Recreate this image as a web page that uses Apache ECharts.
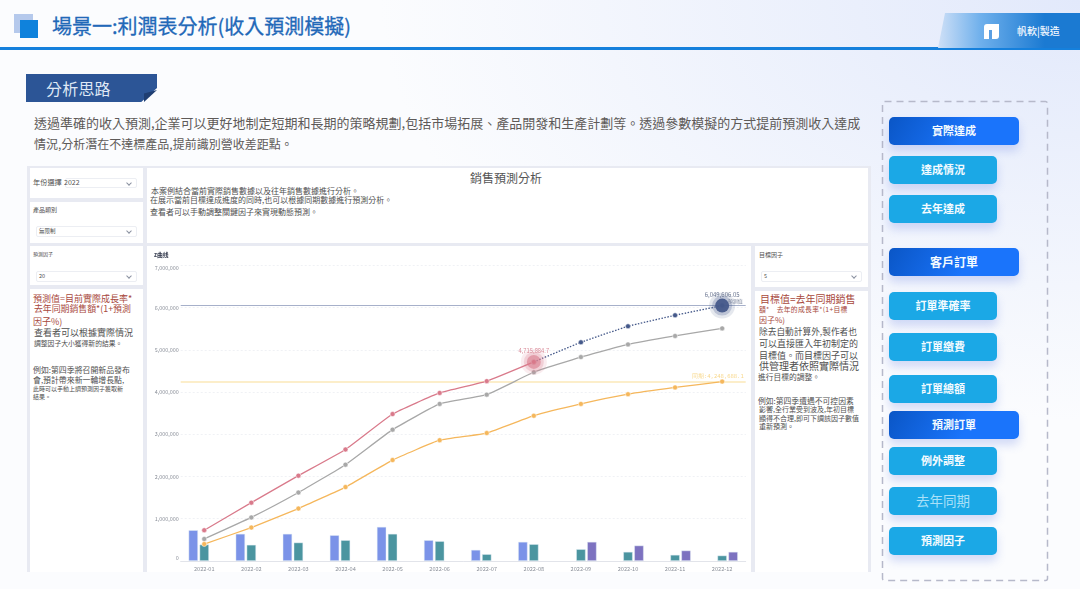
<!DOCTYPE html>
<html>
<head>
<meta charset="utf-8">
<script src="https://cdn.jsdelivr.net/npm/echarts@6/dist/echarts.min.js"></script>
<style>
html, body { margin: 0; padding: 0; }
body { width: 1080px; height: 589px; overflow: hidden; position: relative; font-family: "Noto Sans CJK TC", "Noto Sans", sans-serif;
  background: radial-gradient(ellipse 700px 420px at 100% 0, #e2e9fb, rgba(226,233,251,0)), #fbfcfe; }
.box { position: absolute; }
.t { position: absolute; white-space: nowrap; line-height: 1; }
.p { position: absolute; background: #fff; }
.sel { position: absolute; background: #fff; border: 1px solid #eceef3; border-radius: 2px; box-sizing: border-box; }
.sel:after { content: ""; position: absolute; right: 5px; top: 2px; width: 3px; height: 3px; border-right: 1px solid #8a90a0; border-bottom: 1px solid #8a90a0; transform: rotate(45deg); }
.red { color: #a8483c; }
.gr { color: #4f4f4f; }
.btn { position: absolute; left: 889px; width: 108px; height: 28px; border-radius: 5px; background: #1ba8e6; color: #f4fbff; font-weight: 700; font-size: 11px; line-height: 27px; text-align: center; box-shadow: 0 6px 10px rgba(70,100,220,.22); }
.btn.main { width: 130px; background: linear-gradient(120deg, #0a56c6, #1a74fb 60%); }
</style>
</head>
<body>
<!-- header -->
<div class="box" style="left:14px;top:14px;width:19px;height:19px;background:#b5c9ec"></div>
<div class="box" style="left:20px;top:20px;width:18px;height:18px;background:#0f82dc"></div>
<div class="t" style="left:52px;top:16px;font-size:20px;color:#2268b8;font-weight:400;-webkit-text-stroke:.3px #2268b8">場景一:利潤表分析(收入預測模擬)</div>
<div class="box" style="left:0;top:47px;width:1080px;height:2.5px;background:#1580dc"></div>
<div class="box" style="left:938px;top:13px;width:142px;height:35px;clip-path:polygon(7px 0,100% 0,100% 100%,0 100%);background:linear-gradient(90deg,#cfe0f7,#6fb0ec 30%,#1b7ad2 75%)"></div>
<div class="box" style="left:984px;top:24px;width:15px;height:15px;background:#fff;border-radius:3px 0 3px 0"></div>
<div class="box" style="left:989px;top:30px;width:3px;height:9px;background:#5a9fe3"></div>
<div class="t" style="left:1017px;top:26px;font-size:10px;color:#f2f8ff;font-weight:500">帆軟|製造</div>

<!-- section tag -->
<div class="box" style="left:26px;top:74px;width:131px;height:28px;background:#2c5596;clip-path:polygon(0 0,100% 0,100% 50%,88% 100%,0 100%)"></div>
<div class="box" style="left:144px;top:90px;width:13px;height:12px;background:#1f3e72;clip-path:polygon(100% 0,0 100%,0 30%)"></div>
<div class="t" style="left:46px;top:80px;font-size:16px;color:#dfe8f5;letter-spacing:.2px">分析思路</div>
<div class="t" style="left:34px;top:116px;font-size:13px;color:#5e5a58">透過準確的收入預測,企業可以更好地制定短期和長期的策略規劃,包括市場拓展、產品開發和生產計劃等。透過參數模擬的方式提前預測收入達成</div>
<div class="t" style="left:34px;top:138px;font-size:12px;color:#5e5a58">情況,分析潛在不達標產品,提前識別營收差距點。</div>

<!-- dashboard frame -->
<div class="box" style="left:27px;top:166px;width:844px;height:406px;background:#e8eaf2"></div>
<div class="p" style="left:30px;top:168px;width:113px;height:30px"></div>
<div class="p" style="left:30px;top:202px;width:113px;height:41px"></div>
<div class="p" style="left:30px;top:246px;width:113px;height:39px"></div>
<div class="p" style="left:30px;top:289px;width:113px;height:283px"></div>
<div class="p" style="left:147px;top:168px;width:721px;height:75px"></div>
<div class="p" style="left:147px;top:246px;width:604px;height:326px"></div>
<div class="p" style="left:755px;top:246px;width:113px;height:41px"></div>
<div class="p" style="left:755px;top:291px;width:113px;height:281px"></div>

<!-- filters -->
<div class="t gr" style="left:33px;top:178.5px;font-size:7.2px">年份選擇</div>
<div class="sel" style="left:65px;top:178px;width:72px;height:10px"></div>
<div class="t gr" style="left:64px;top:178.5px;font-size:7px">2022</div>
<div class="t gr" style="left:33px;top:207px;font-size:6px">產品類別</div>
<div class="sel" style="left:36px;top:226px;width:101px;height:11px"></div>
<div class="t gr" style="left:39px;top:229px;font-size:5.5px">無限制</div>
<div class="t gr" style="left:33px;top:251px;font-size:5px">預測因子</div>
<div class="sel" style="left:36px;top:271px;width:101px;height:11px"></div>
<div class="t gr" style="left:39px;top:274px;font-size:5.5px">20</div>
<div class="t gr" style="left:759px;top:252px;font-size:6px">目標因子</div>
<div class="sel" style="left:761px;top:271px;width:101px;height:11px"></div>
<div class="t gr" style="left:764px;top:274px;font-size:5.5px">5</div>

<!-- intro -->
<div class="t" style="left:470px;top:172px;font-size:12px;color:#555">銷售預測分析</div>
<div class="t gr" style="left:151px;top:187px;font-size:8px">本案例結合當前實際銷售數據以及往年銷售數據進行分析。</div>
<div class="t gr" style="left:150px;top:196px;font-size:8px">在展示當前目標達成進度的同時,也可以根據同期數據進行預測分析。</div>
<div class="t gr" style="left:150px;top:207.5px;font-size:8px">查看者可以手動調整關鍵因子來實現動態預測。</div>

<!-- left notes -->
<div class="t red" style="left:33px;top:294px;font-size:9px">預測值=目前實際成長率*</div>
<div class="t red" style="left:34px;top:305px;font-size:8.9px">去年同期銷售額*(1+預測</div>
<div class="t red" style="left:33px;top:317px;font-size:9px">因子%)</div>
<div class="t gr" style="left:34px;top:327.5px;font-size:9px">查看者可以根據實際情況</div>
<div class="t gr" style="left:34px;top:340px;font-size:6.8px">調整因子大小獲得新的結果。</div>
<div class="t gr" style="left:33px;top:366px;font-size:7.9px">例如:第四季將召開新品發布</div>
<div class="t gr" style="left:33px;top:376px;font-size:7.9px">會,預計帶來新一輪增長點,</div>
<div class="t gr" style="left:33px;top:386px;font-size:6px">此時可以手動上調預測因子獲取新</div>
<div class="t gr" style="left:33px;top:394px;font-size:6px">結果。</div>

<!-- right notes -->
<div class="t red" style="left:760px;top:294px;font-size:10px">目標值=去年同期銷售</div>
<div class="t red" style="left:759px;top:305.5px;font-size:6.8px;letter-spacing:.3px">額*　去年的成長率*(1+目標</div>
<div class="t red" style="left:759px;top:316px;font-size:8px">因子%)</div>
<div class="t gr" style="left:759px;top:328px;font-size:8.7px">除去自動計算外,製作者也</div>
<div class="t gr" style="left:759px;top:338.5px;font-size:9px">可以直接匯入年初制定的</div>
<div class="t gr" style="left:759px;top:350.5px;font-size:9px">目標值。而目標因子可以</div>
<div class="t gr" style="left:759px;top:361px;font-size:10px">供管理者依照實際情況</div>
<div class="t gr" style="left:758px;top:373px;font-size:7.75px">進行目標的調整。</div>
<div class="t gr" style="left:758px;top:396.5px;font-size:7.8px">例如:第四季遭遇不可控因素</div>
<div class="t gr" style="left:759px;top:405.5px;font-size:7px">影響,全行業受到波及,年初目標</div>
<div class="t gr" style="left:759px;top:414.5px;font-size:7px">顯得不合理,即可下調該因子數值</div>
<div class="t gr" style="left:759px;top:422.5px;font-size:7px">重新預測。</div>

<!-- chart -->
<div id="chart" class="box" style="left:147px;top:246px;width:604px;height:326px"></div>

<!-- button column -->
<svg class="box" style="left:881px;top:100px" width="168" height="482">
  <rect x="1.5" y="1.5" width="165" height="479" rx="2" fill="none" stroke="#b6b9ca" stroke-width="1.5" stroke-dasharray="7 5"/>
</svg>
<div class="btn main" style="top:117px">實際達成</div>
<div class="btn" style="top:156px">達成情況</div>
<div class="btn" style="top:195px">去年達成</div>
<div class="btn main" style="top:248px;font-size:12px">客戶訂單</div>
<div class="btn" style="top:292px">訂單準確率</div>
<div class="btn" style="top:332.5px">訂單繳費</div>
<div class="btn" style="top:375px">訂單總額</div>
<div class="btn main" style="top:411px">預測訂單</div>
<div class="btn" style="top:447px">例外調整</div>
<div class="btn" style="top:487px;font-size:13.5px;font-weight:400;color:#a9e0f8">去年同期</div>
<div class="btn" style="top:527px">預測因子</div>

<script>
var months = ["2022-01", "2022-02", "2022-03", "2022-04", "2022-05", "2022-06", "2022-07", "2022-08", "2022-09", "2022-10", "2022-11", "2022-12"];
var actualTotal = [727000, 1380000, 2020000, 2640000, 3480000, 3980000, 4260000, 4715884.7, null, null, null, null];
var forecastTotal = [null, null, null, null, null, null, null, 4715884.7, 5180000, 5560000, 5820000, 6049606.05];
var targetTotal = [520000, 1030000, 1620000, 2280000, 3110000, 3720000, 3940000, 4470000, 4830000, 5130000, 5330000, 5510000];
var lastYearTotal = [400000, 790000, 1240000, 1750000, 2390000, 2860000, 3030000, 3440000, 3720000, 3950000, 4110000, 4248688.1];
var actualMonthly = [726000, 640000, 640000, 607000, 805000, 490000, 260000, 450000, null, null, null, null];
var lastYearMonthly = [387000, 380000, 434000, 490000, 640000, 466000, 158000, 395000, 276000, 213000, 142000, 126000];
var forecastMonthly = [null, null, null, null, null, null, null, null, 450000, 363000, 245000, 213000];

var RED = "#d97a8b", NAVY = "#45598a", GRAY = "#a8a8a8", ORANGE = "#f5b75c";

function fmt(v) {
  return echarts.format.addCommas(v);
}

function lineSeries(name, data, color, extra) {
  return Object.assign({
    name: name,
    type: "line",
    data: data,
    z: 5,
    smooth: 0.12,
    symbol: "circle",
    symbolSize: 5,
    showSymbol: true,
    lineStyle: { color: color, width: 1.3 },
    itemStyle: { color: color, borderColor: "#fff", borderWidth: 0.5 },
  }, extra || {});
}

function barSeries(name, data, color) {
  return {
    name: name,
    type: "bar",
    data: data,
    barWidth: 9.3,
    barGap: "18%",
    itemStyle: { color: color, borderColor: "rgba(225,235,245,0.9)", borderWidth: 0.5 },
  };
}

// halo rings on the two highlighted points, alpha goes in the colour so labels stay solid
function ring(name, month, value, color, size, alpha, label) {
  return {
    name: name,
    type: "scatter",
    data: [[month, value]],
    z: 6,
    symbolSize: size,
    itemStyle: { color: echarts.color.modifyAlpha(color, alpha), opacity: 1 },
    label: label || { show: false },
  };
}

var chart = echarts.init(document.getElementById("chart"), null, { renderer: "canvas" });
var option = {
  animation: false,
  textStyle: { fontFamily: "Noto Sans CJK TC" },
  title: {
    text: "z曲线",
    left: 7,
    top: 6,
    padding: 0,
    textStyle: { fontSize: 5.8, fontWeight: "bold", color: "#333a4d" },
  },
  grid: { left: 33.7, right: 5.3, top: 19.5, bottom: 11 },
  xAxis: {
    type: "category",
    data: months,
    axisTick: { show: false },
    axisLine: { lineStyle: { color: "#e2e4ea", width: 1 } },
    axisLabel: { color: "#8a8f99", fontSize: 5.6, margin: 5.5 },
  },
  yAxis: {
    type: "value",
    min: 0,
    max: 7000000,
    interval: 1000000,
    axisLine: { show: false },
    axisTick: { show: false },
    axisLabel: {
      color: "#8a8f99",
      fontSize: 5.4,
      margin: 2,
      verticalAlignMinLabel: "bottom",
      verticalAlignMaxLabel: "top",
      formatter: fmt,
    },
    splitLine: { lineStyle: { color: "#eceef3", type: [2, 2], width: 0.8 } },
  },
  series: [
    barSeries("本期", actualMonthly, "#7b93e8"),
    barSeries("同期", lastYearMonthly, "#4b95a0"),
    barSeries("預測", forecastMonthly, "#7d72c0"),
    lineSeries("目標", targetTotal, GRAY),
    lineSeries("去年", lastYearTotal, ORANGE, {
      markLine: {
        silent: true,
        symbol: "none",
        lineStyle: { color: "#fbe8b8", width: 1.5, type: "solid" },
        label: {
          position: "insideEndTop",
          distance: 2,
          color: "#f8d88c",
          fontSize: 5.5,
          fontFamily: "DejaVu Sans Mono",
          formatter: "同期:" + fmt(lastYearTotal[11]),
        },
        data: [{ yAxis: lastYearTotal[11] }],
      },
    }),
    lineSeries("預測累計", forecastTotal, NAVY, {
      smooth: 0.1,
      lineStyle: { color: NAVY, width: 1.3, type: [1.5, 1.5] },
      markLine: {
        silent: true,
        symbol: "none",
        label: { show: false },
        lineStyle: { color: "#a6b0ca", width: 1.2, type: "solid" },
        data: [{ yAxis: forecastTotal[11] }],
      },
    }),
    lineSeries("實際累計", actualTotal, RED),
    ring("haloA", months[7], actualTotal[7], RED, 26, 0.14),
    ring("haloB", months[7], actualTotal[7], RED, 20, 0.25),
    ring("dotA", months[7], actualTotal[7], RED, 14, 0.6, {
      show: true,
      position: "top",
      distance: 1,
      color: "#d98a98",
      fontSize: 5.8,
      formatter: fmt(actualTotal[7]),
    }),
    ring("haloC", months[11], forecastTotal[11], NAVY, 26, 0.14),
    ring("haloD", months[11], forecastTotal[11], NAVY, 20, 0.25),
    ring("dotB", months[11], forecastTotal[11], NAVY, 14, 0.95, {
      show: true,
      position: "top",
      distance: 1,
      color: "#6a7590",
      fontSize: 6,
      formatter: fmt(forecastTotal[11]),
    }),
    ring("tagB", months[11], forecastTotal[11], NAVY, 1, 0, {
      show: true,
      position: "inside",
      offset: [13, -5],
      color: "#7d879e",
      fontSize: 5,
      formatter: "預測值",
    }),
  ],
};
chart.setOption(option);
</script>
</body>
</html>
